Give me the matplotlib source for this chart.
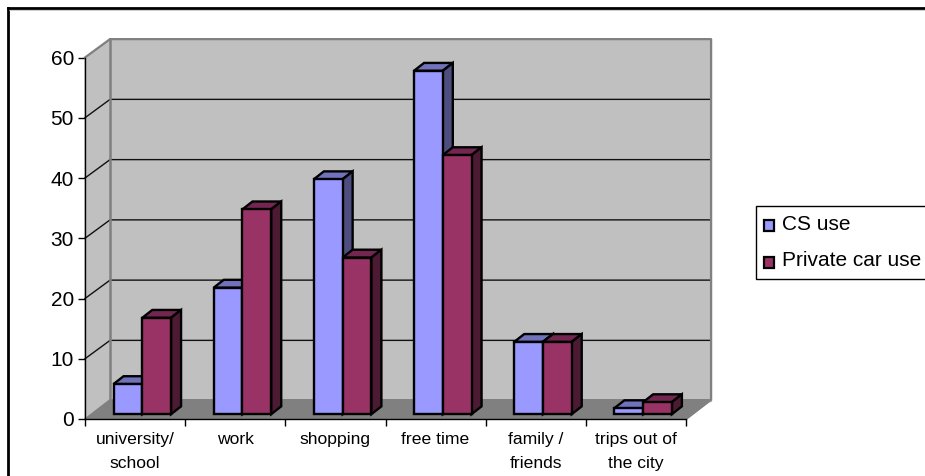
import matplotlib
matplotlib.use("Agg")
import matplotlib.pyplot as plt
from matplotlib.patches import Rectangle

categorias = ["university/\nschool", "work", "shopping", "free time", "family /\nfriends", "trips out of\nthe city"]
cs_use = [5, 21, 39, 57, 12, 1]
carro_use = [16, 34, 26, 43, 12, 2]
ticks_y = [0, 10, 20, 30, 40, 50, 60]

W, H = 925, 476
plt.rcParams["font.family"] = ["Liberation Sans", "DejaVu Sans"]

fig = plt.figure(figsize=(W / 100, H / 100), dpi=100)
fundo = fig.add_axes([0, 0, 1, 1])
fundo.set_xlim(0, W)
fundo.set_ylim(H, 0)
fundo.axis("off")

# moldura externa
fundo.plot([8, 8], [H + 2, 8], color="black", lw=2)
fundo.plot([8, W + 2], [8, 8], color="black", lw=2)
fundo.plot([9, W + 2], [9.8, 9.8], color="#BBBBBB", lw=0.5)

ax = fig.add_axes([85 / W, 1 - 419 / H, 601 / W, 361.5 / H])
ax.patch.set_visible(False)
ax.set_xlim(0, 6)
ax.set_ylim(0, 60)

# profundidade do grafico, em unidades de dados
dx, dy, dy_chao = 0.25, 3.05, 3.2
ax.fill([dx, 6 + dx, 6 + dx, dx], [dy, dy, 60 + dy, 60 + dy], color="#C0C0C0", clip_on=False, zorder=1)
ax.fill([0, dx, dx, 0], [0, dy, 60 + dy, 60], color="#C0C0C0", clip_on=False, zorder=1)
ax.fill([0, dx, 6 + dx, 6], [0, dy_chao, dy_chao, 0], color="#808080", clip_on=False, zorder=1)

for v in ticks_y[1:-1]:
    ax.plot([0, dx, 6 + dx], [v, v + dy, v + dy], color="#111111", lw=1, clip_on=False, zorder=2)
ax.plot([0, dx, 6 + dx, 6 + dx, 6], [60, 60 + dy, 60 + dy, dy_chao, 0], color="#808080", lw=1.6, clip_on=False, zorder=2)
ax.plot([dx, dx], [dy_chao, 60 + dy], color="#808080", lw=1.8, clip_on=False, zorder=2)


def barras(posicoes, valores, cor, cor_topo, cor_lado, z):
    base = 0.8
    larg = 0.287
    px, py = 0.1, 1.3
    for x, v in zip(posicoes, valores):
        ax.bar(x, v, larg, bottom=base, align="edge", color=cor, edgecolor="black", lw=1.7, zorder=z + 1)
        ax.fill([x, x + px, x + larg + px, x + larg], [base + v, base + v + py, base + v + py, base + v],
                facecolor=cor_topo, edgecolor="black", lw=1.7, zorder=z, clip_on=False)
        ax.fill([x + larg, x + larg + px, x + larg + px, x + larg],
                [base, base + py, base + v + py, base + v],
                facecolor=cor_lado, edgecolor="black", lw=1.7, zorder=z, clip_on=False)


pos = [i + 0.285 for i in range(len(categorias))]
barras(pos, cs_use, "#9999FF", "#7072BC", "#4D4D80", 4)
barras([p + 0.287 for p in pos], carro_use, "#993366", "#732650", "#4D1A33", 6)

for lado in ["top", "right"]:
    ax.spines[lado].set_visible(False)
ax.spines["left"].set_linewidth(1)
ax.spines["bottom"].set_linewidth(1)
ax.set_zorder(3)

ax.set_yticks(ticks_y)
ax.set_xticks(range(7))
ax.set_xticklabels([])
ax.tick_params(axis="y", labelsize=15, length=5, width=1, pad=3)
ax.tick_params(axis="x", length=5, width=1)
for i, nome in enumerate(categorias):
    ax.annotate(nome, (i + 0.5, 0), xytext=(0, -9.5), textcoords="offset points", ha="center", va="top",
                fontsize=12.6, linespacing=1.7, annotation_clip=False)

# legenda
fundo.add_patch(Rectangle((755.5, 205.5), 200, 73.5, facecolor="white", edgecolor="black", lw=1))
fundo.add_patch(Rectangle((763.5, 220), 10.5, 10.5, facecolor="#9999FF", edgecolor="black", lw=1.6))
fundo.add_patch(Rectangle((763.5, 257), 10.5, 10.5, facecolor="#993366", edgecolor="black", lw=1.6))
fundo.text(782, 224, "CS use", fontsize=15, va="center", ha="left")
fundo.text(782, 260.5, "Private car use", fontsize=15, va="center", ha="left")

fig.savefig("out.png", dpi=100)
